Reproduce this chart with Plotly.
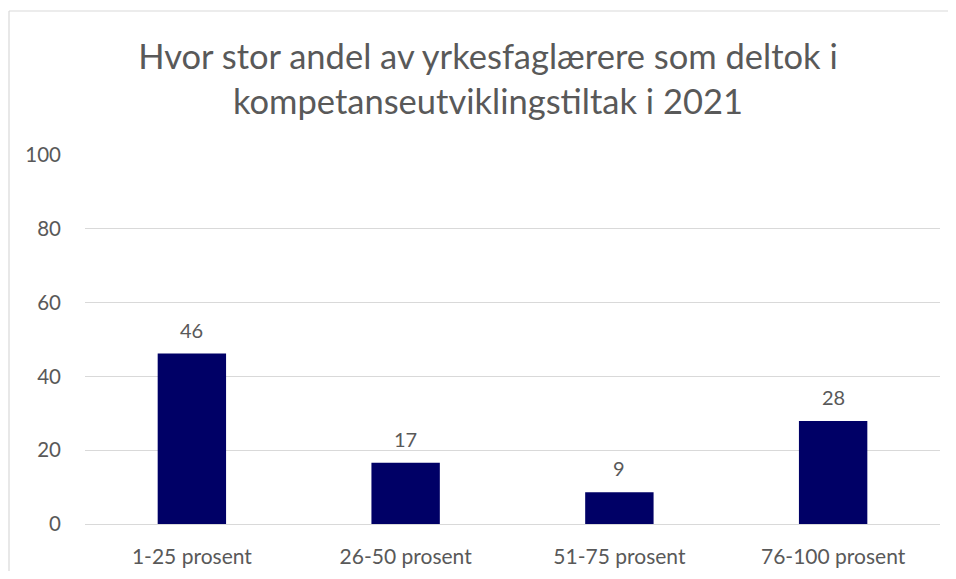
import plotly.graph_objects as go

categories = ["1-25 prosent", "26-50 prosent", "51-75 prosent", "76-100 prosent"]
values = [46.2, 16.6, 8.6, 27.9]
y_ticks = [0, 20, 40, 60, 80, 100]
title_text = "Hvor stor andel av yrkesfaglærere som deltok i<br>kompetanseutviklingstiltak i 2021"

GRAY = "#595959"
GRID = "#d9d9d9"
FONT = "Lato, Noto Sans, sans-serif"

# page body has an 8px margin: figure coords = picture coords - 8
OFF = 8
W, H = 956 - 2 * OFF, 579 - 2 * OFF
L = 85 - OFF
R = W - (940 - OFF)
T = 155 - OFF
B = H - (524 - OFF)
pw, ph = W - L - R, H - T - B

fig = go.Figure()
fig.add_trace(go.Bar(
    x=categories, y=values,
    marker=dict(color="#000066", line=dict(width=0)),
    hoverinfo="skip",
))

for c, v in zip(categories, values):
    fig.add_annotation(
        x=c, y=v, text=f"{round(v):d}", showarrow=False,
        yanchor="middle", yshift=24,
        font=dict(family=FONT, size=20, color=GRAY),
    )

# chart-area border (top and left edges visible)
bx0 = (9 - OFF - L) / pw
by1 = (H - B - (11 - OFF)) / ph
fig.add_shape(type="line", xref="paper", yref="paper",
              x0=bx0, x1=(W + 40 - L) / pw, y0=by1, y1=by1,
              line=dict(color=GRID, width=1.2), layer="below")
fig.add_shape(type="line", xref="paper", yref="paper",
              x0=bx0, x1=bx0, y0=-(B + 40) / ph, y1=by1,
              line=dict(color=GRID, width=1.2), layer="below")

fig.update_layout(
    width=W, height=H,
    margin=dict(l=L, r=R, t=T, b=B, autoexpand=False),
    paper_bgcolor="white", plot_bgcolor="white",
    bargap=0.68,
    showlegend=False,
    title=dict(
        text=title_text, x=(488 - OFF) / W, xanchor="center", xref="container",
        y=1 - (69 - OFF) / H, yanchor="top",
        font=dict(family=FONT, size=34.5, color=GRAY),
    ),
    font=dict(family=FONT, size=20, color=GRAY),
    xaxis=dict(showgrid=False, showline=False, ticks="", ticklabelstandoff=18,
               automargin=False, tickfont=dict(size=21, color=GRAY)),
    yaxis=dict(
        range=[0, 100], tickvals=y_ticks, showgrid=True, gridcolor=GRID, gridwidth=1.2,
        zeroline=True, zerolinecolor=GRID, zerolinewidth=1.2, showline=False,
        automargin=False,
        ticks="", ticklabelstandoff=23, tickfont=dict(size=20.5, color=GRAY),
    ),
)

fig.write_html("out.html")
